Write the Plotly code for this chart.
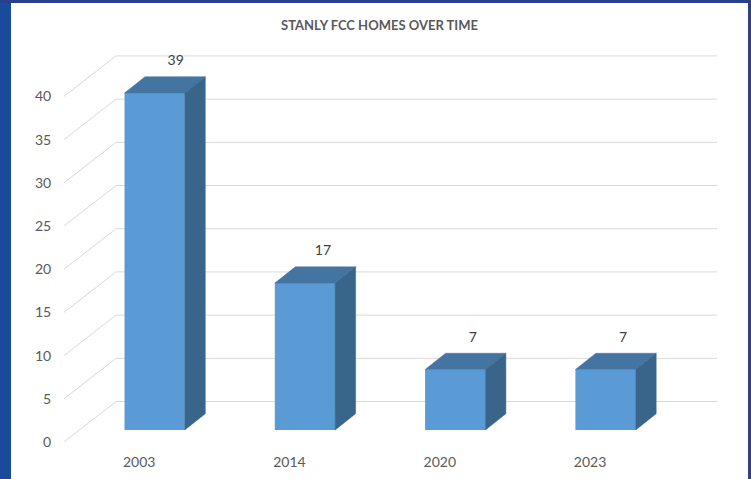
import plotly.graph_objects as go

categories = ["2003", "2014", "2020", "2023"]
homes = [39, 17, 7, 7]
y_ticks = [0, 5, 10, 15, 20, 25, 30, 35, 40]
title_text = "STANLY FCC HOMES OVER TIME"

W, H = 751, 479
L, B = 64, 442        # where the category / value axes cross
px_x = 150.3          # pixels per category
px_y = 8.64           # pixels per value unit

# pseudo-3D offsets, expressed in axis units
wall_dx, wall_dy = 52 / px_x, 40.5 / px_y
front_dx, front_dy = 15.5 / px_x, 12 / px_y
depth_dx, depth_dy = 20.5 / px_x, 16.3 / px_y
bar_w = 60.3 / px_x
label_dx = [36.5 / px_x, 33.5 / px_x, 33 / px_x, 33 / px_x]
label_dy = 5.0

x_idx = list(range(len(categories)))
x0, x1 = -0.5, len(categories) - 0.5
x_range = [x0 - L / px_x, x0 + (W - L) / px_x]
y_range = [-(H - B) / px_y, B / px_y]

TXT = "#595959"
FONT = "Lato"
GRID = "#d9d9d9"
FRONT, TOP, SIDE = "#5b9bd5", "#4475a2", "#39658b"

shapes = []
# frame of the slide behind the chart
for (a, b, c, d, col) in [(0, 11, 0, H, "#1a4a9a"), (748, W, 0, H, "#27408f"), (0, W, 0, 3, "#27408f")]:
    shapes.append(dict(type="rect", xref="paper", yref="paper", layer="below", line_width=0, fillcolor=col,
                       x0=a / W, x1=b / W, y0=1 - d / H, y1=1 - c / H))
# floor diagonals + wall gridlines
for v in y_ticks:
    line = dict(type="line", xref="x", yref="y", layer="below", line=dict(color=GRID, width=1))
    shapes.append({**line, "x0": x0, "y0": v, "x1": x0 + wall_dx, "y1": v + wall_dy})
    shapes.append({**line, "x0": x0 + wall_dx, "y0": v + wall_dy, "x1": x1 + wall_dx, "y1": v + wall_dy})

fig = go.Figure()
fig.add_trace(go.Bar(x=[i + front_dx for i in x_idx], y=homes, base=[front_dy] * len(homes), width=bar_w,
                     marker=dict(color=FRONT, line=dict(width=0)), showlegend=False, hoverinfo="y"))

for i, v in zip(x_idx, homes):
    xl = i + front_dx - bar_w / 2
    xr = i + front_dx + bar_w / 2
    yb = front_dy
    yt = front_dy + v
    fig.add_trace(go.Scatter(x=[xl, xr, xr + depth_dx, xl + depth_dx, xl],
                             y=[yt, yt, yt + depth_dy, yt + depth_dy, yt],
                             mode="lines", fill="toself", fillcolor=TOP, line=dict(width=0.5, color=TOP),
                             showlegend=False, hoverinfo="skip"))
    fig.add_trace(go.Scatter(x=[xr, xr + depth_dx, xr + depth_dx, xr, xr],
                             y=[yb, yb + depth_dy, yt + depth_dy, yt, yb],
                             mode="lines", fill="toself", fillcolor=SIDE, line=dict(width=0.5, color=SIDE),
                             showlegend=False, hoverinfo="skip"))

fig.add_trace(go.Scatter(x=[i + d for i, d in zip(x_idx, label_dx)], y=[v + label_dy for v in homes],
                         text=[str(v) for v in homes], mode="text", textposition="middle center",
                         textfont=dict(family=FONT, size=14, color="#404040"),
                         showlegend=False, hoverinfo="skip"))

fig.update_layout(
    width=W, height=H, autosize=False,
    margin=dict(l=0, r=0, t=0, b=0, pad=0),
    paper_bgcolor="white", plot_bgcolor="rgba(0,0,0,0)",
    shapes=shapes,
    title=dict(text=f"<b>{title_text}</b>", xref="container", x=379.5 / W, xanchor="center",
               yref="container", y=1 - 25 / H, yanchor="middle",
               font=dict(family=FONT, size=13, color=TXT)),
    xaxis=dict(range=x_range, tickmode="array", tickvals=x_idx, ticktext=categories,
               anchor="free", position=1 - B / H, automargin=False,
               showgrid=False, zeroline=False, showline=False,
               ticks="outside", ticklen=7, tickcolor="rgba(0,0,0,0)",
               tickfont=dict(family=FONT, size=14, color=TXT)),
    yaxis=dict(range=y_range, tickmode="array", tickvals=y_ticks,
               anchor="free", position=L / W, automargin=False,
               showgrid=False, zeroline=False, showline=False,
               ticks="outside", ticklen=10, tickcolor="rgba(0,0,0,0)",
               tickfont=dict(family=FONT, size=14, color=TXT)),
)

fig.write_html("out.html", config={"displayModeBar": False},
               post_script="document.body.style.margin='0';document.documentElement.style.overflow='hidden';")
